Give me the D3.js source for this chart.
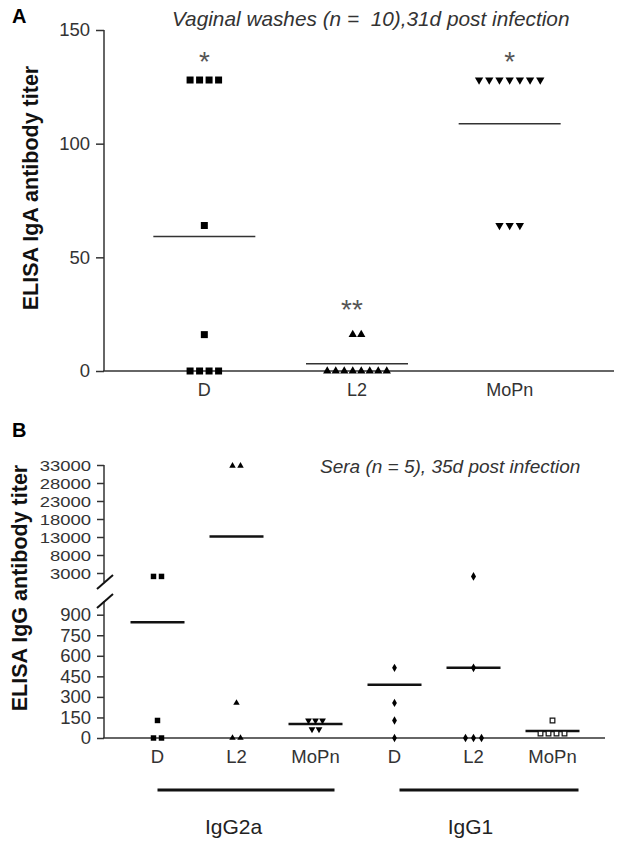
<!DOCTYPE html>
<html><head><meta charset="utf-8">
<script src="https://cdn.jsdelivr.net/npm/d3@7"></script>
<style>
body{margin:0;background:#fff}
svg{display:block}
text{font-family:"Liberation Sans",Arial,sans-serif}
</style>
</head><body>
<svg id="c" width="617" height="848"></svg>
<script>
// ---------- Panel A data ----------
const catsA = ["D", "L2", "MoPn"];
const igaD = [128, 128, 128, 128, 64, 16, 0, 0, 0, 0];
const igaL2 = [16, 16, 0, 0, 0, 0, 0, 0, 0, 0];
const igaMoPn = [128, 128, 128, 128, 128, 128, 128, 64, 64, 64];
const meanA = [59.2, 3.2, 108.8];
const sigA = ["*", "**", "*"];
const sigYA = [139, 30, 139];
const ticksA = [0, 50, 100, 150];
const titleA = "Vaginal washes (n =  10),31d post infection";
const ylabelA = "ELISA IgA antibody titer";

// ---------- Panel B data ----------
const catsB = ["D", "L2", "MoPn", "D", "L2", "MoPn"];
const groupsB = ["IgG2a", "IgG1"];
const igg2aD = [2048, 2048, 128, 0, 0];
const igg2aL2 = [32768, 32768, 256, 0, 0];
const igg2aMoPn = [128, 128, 128, 64, 64];
const igg1D = [512, 256, 128, 0];
const igg1L2 = [2048, 512, 0, 0, 0];
const igg1MoPn = [128, 32, 32, 32, 32];
const meanB = [844.8, 13158, 102.4, 388, 512, 51.2];
const ticksBLow = [0, 150, 300, 450, 600, 750, 900];
const ticksBHigh = [3000, 8000, 13000, 18000, 23000, 28000, 33000];
const titleB = "Sera (n = 5), 35d post infection";
const ylabelB = "ELISA IgG antibody titer";

const svg = d3.select("#c");
const FONT_TICK = 18.5;

// spread equal values symmetrically around the center
function layout(values, spacing) {
  const counts = d3.rollup(values, v => v.length, d => d);
  const seen = new Map();
  return values.map(v => {
    const n = counts.get(v);
    const i = seen.get(v) || 0;
    seen.set(v, i + 1);
    return { v, dx: (i - (n - 1) / 2) * spacing };
  });
}

function styleAxis(g, fs) {
  g.selectAll("path.domain").remove();
  g.selectAll(".tick line").attr("stroke", "#333").attr("stroke-width", 1.5);
  g.selectAll(".tick text").attr("fill", "#333").style("font-size", (fs || FONT_TICK) + "px").attr("font-family", "Liberation Sans, Arial, sans-serif");
}

// ================= PANEL A =================
const xA = d3.scaleBand().domain(catsA).range([128, 586]);
const yA = d3.scaleLinear().domain([0, 150]).range([371, 30]);
const cA = c => xA(c) + xA.bandwidth() / 2;

svg.append("text").attr("x", 12).attr("y", 23).attr("font-weight", "bold").style("font-size", "20px").text("A");

const gyA = svg.append("g").attr("transform", "translate(104,0)")
  .call(d3.axisLeft(yA).tickValues(ticksA).tickSize(8).tickPadding(6).tickSizeOuter(0));
styleAxis(gyA);
svg.append("line").attr("x1", 104).attr("x2", 104).attr("y1", yA(150)).attr("y2", yA(0))
  .attr("stroke", "#333").attr("stroke-width", 1.5);

const gxA = svg.append("g").attr("transform", "translate(0," + yA(0) + ")")
  .call(d3.axisBottom(xA).tickSize(0).tickPadding(12));
styleAxis(gxA, 18);
svg.append("line").attr("x1", 103).attr("x2", 614).attr("y1", yA(0)).attr("y2", yA(0))
  .attr("stroke", "#333").attr("stroke-width", 1.5);

svg.append("text").attr("transform", "translate(38," + 188 + ") rotate(-90)")
  .attr("text-anchor", "middle").attr("font-weight", "bold").style("font-size", "21.5px").attr("fill", "#111").text(ylabelA);

svg.append("text").attr("x", 172).attr("y", 26).attr("font-style", "italic").style("font-size", "20.8px")
  .style("white-space", "pre").attr("xml:space", "preserve").attr("fill", "#333").text(titleA);

const dataA = [igaD, igaL2, igaMoPn];
const symA = [
  { type: d3.symbolSquare, size: 49, rot: 0, sp: 9.5 },
  { type: d3.symbolTriangle, size: 30, rot: 0, sp: 8.5 },
  { type: d3.symbolTriangle, size: 30, rot: 180, sp: 10.2 }
];
dataA.forEach((arr, k) => {
  const cx = cA(catsA[k]);
  const s = symA[k];
  svg.append("line").attr("x1", cx - 51).attr("x2", cx + 51).attr("y1", yA(meanA[k])).attr("y2", yA(meanA[k]))
    .attr("stroke", "#333").attr("stroke-width", 1.5);
  svg.append("g").selectAll("path").data(layout(arr, s.sp)).join("path")
    .attr("d", d3.symbol().type(s.type).size(s.size))
    .attr("transform", d => `translate(${cx + d.dx},${yA(d.v)}) rotate(${s.rot})`)
    .attr("fill", "#000");
  svg.append("text").attr("x", cx - (k === 1 ? 5 : 0)).attr("y", yA(sigYA[k]) + 16).attr("text-anchor", "middle")
    .style("font-size", "28px").attr("fill", "#555").text(sigA[k]);
});

// ================= PANEL B =================
const xB = d3.scaleBand().domain(d3.range(6)).range([118, 592]);
const cB = i => xB(i) + xB.bandwidth() / 2;
const yLow = d3.scaleLinear().domain([0, 1000]).range([738, 601]);
const yHigh = d3.scaleLinear().domain([500, 33000]).range([582, 465]);
const yB = v => v <= 1000 ? yLow(v) : yHigh(v);

svg.append("text").attr("x", 12).attr("y", 437).attr("font-weight", "bold").style("font-size", "20px").text("B");

const gyL = svg.append("g").attr("transform", "translate(104,0)")
  .call(d3.axisLeft(yLow).tickValues(ticksBLow).tickSize(7).tickPadding(6).tickSizeOuter(0));
styleAxis(gyL);
const gyH = svg.append("g").attr("transform", "translate(104,0)")
  .call(d3.axisLeft(yHigh).tickValues(ticksBHigh).tickFormat(d3.format("d")).tickSize(7).tickPadding(6).tickSizeOuter(0));
styleAxis(gyH, 15.4);
const SX = 1.2;
gyH.selectAll(".tick text").attr("transform", `scale(${SX},1)`).attr("x", -13 / SX).attr("dy", "0.36em");
svg.append("line").attr("x1", 104).attr("x2", 104).attr("y1", yHigh(33000)).attr("y2", yHigh(500))
  .attr("stroke", "#333").attr("stroke-width", 1.5);
svg.append("line").attr("x1", 104).attr("x2", 104).attr("y1", yLow(1000)).attr("y2", yLow(0))
  .attr("stroke", "#333").attr("stroke-width", 1.5);
// break marks
[yHigh(500), yLow(1000)].forEach(yy => {
  svg.append("line").attr("x1", 97).attr("x2", 113).attr("y1", yy + 7).attr("y2", yy - 7)
    .attr("stroke", "#111").attr("stroke-width", 2);
});

const gxB = svg.append("g").attr("transform", "translate(0," + yLow(0) + ")")
  .call(d3.axisBottom(xB).tickFormat(i => catsB[i]).tickSize(0).tickPadding(12));
styleAxis(gxB);
svg.append("line").attr("x1", 103).attr("x2", 605).attr("y1", yLow(0)).attr("y2", yLow(0))
  .attr("stroke", "#333").attr("stroke-width", 1.5);

svg.append("text").attr("transform", "translate(27," + 588 + ") rotate(-90)")
  .attr("text-anchor", "middle").attr("font-weight", "bold").style("font-size", "21.5px").attr("fill", "#111").text(ylabelB);

svg.append("text").attr("x", 320).attr("y", 473).attr("font-style", "italic").style("font-size", "19px").attr("fill", "#333").text(titleB);

const dataB = [igg2aD, igg2aL2, igg2aMoPn, igg1D, igg1L2, igg1MoPn];
const symB = [
  { type: d3.symbolSquare, size: 30, rot: 0, sp: 8, fill: "#000" },
  { type: d3.symbolTriangle, size: 18, rot: 0, sp: 8, fill: "#000" },
  { type: d3.symbolTriangle, size: 20, rot: 180, sp: 7, fill: "#000" },
  { type: d3.symbolDiamond, size: 20, rot: 0, sp: 8, fill: "#000" },
  { type: d3.symbolDiamond, size: 22, rot: 0, sp: 8, fill: "#000" },
  { type: d3.symbolSquare, size: 22, rot: 0, sp: 8, fill: "#fff" }
];
dataB.forEach((arr, k) => {
  const cx = cB(k);
  const s = symB[k];
  svg.append("line").attr("x1", cx - 27).attr("x2", cx + 27).attr("y1", yB(meanB[k])).attr("y2", yB(meanB[k]))
    .attr("stroke", "#111").attr("stroke-width", 2.5);
  svg.append("g").selectAll("path").data(layout(arr, s.sp)).join("path")
    .attr("d", d3.symbol().type(s.type).size(s.size))
    .attr("transform", d => `translate(${cx + d.dx},${yB(d.v)}) rotate(${s.rot})`)
    .attr("fill", s.fill).attr("stroke", s.fill === "#fff" ? "#111" : "none").attr("stroke-width", 1.2);
});

// group brackets
const brackets = [
  { label: groupsB[0], x1: cB(0), x2: cB(2) + 19, mid: cB(1) },
  { label: groupsB[1], x1: cB(3) + 5, x2: cB(5) + 26, mid: cB(4) }
];
brackets.forEach(b => {
  svg.append("line").attr("x1", b.x1).attr("x2", b.x2).attr("y1", 790).attr("y2", 790)
    .attr("stroke", "#111").attr("stroke-width", 3);
  svg.append("text").attr("x", b.mid - 3).attr("y", 834).attr("text-anchor", "middle")
    .style("font-size", "21px").attr("fill", "#222").text(b.label);
});
</script>
</body></html>
